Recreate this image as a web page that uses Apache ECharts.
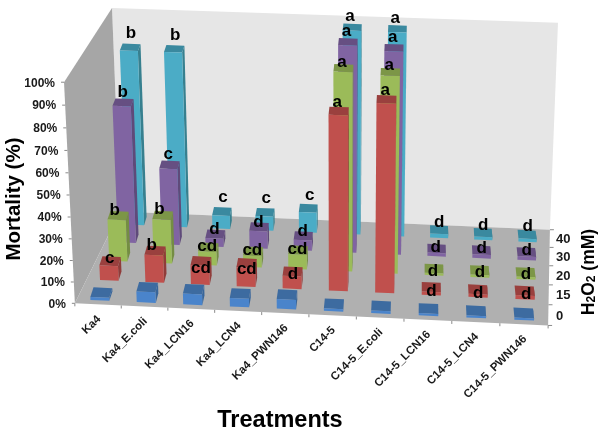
<!DOCTYPE html>
<html><head><meta charset="utf-8">
<style>html,body{margin:0;padding:0;background:#fff}#c{width:600px;height:434px}</style>
<script src="https://cdn.jsdelivr.net/npm/echarts@6/dist/echarts.min.js"></script>
</head><body><div id="c"></div>
<script>
// ---- data ----
const categories = ['Ka4','Ka4_E.coli','Ka4_LCN16','Ka4_LCN4','Ka4_PWN146','C14-5','C14-5_E.coli','C14-5_LCN16','C14-5_LCN4','C14-5_PWN146'];
const depthLabels = ['0','15','20','30','40'];
const mortalityTicks = [0,10,20,30,40,50,60,70,80,90,100];
const h2o2_0  = [1.4,5,5,4,4.5,1.2,1.2,1,1,1];
const h2o2_15 = [7,13,9,9,6,81,87,1.5,1.4,1.8];
const h2o2_20 = [20,21,6.5,5.5,7,93,92,1,1.2,1.2];
const h2o2_30 = [66,37,4,8.5,5,98,96,1.6,1.8,1.8];
const h2o2_40 = [85,85,6.5,7,10,98,98,2,1.5,1.5];
const letters_15 = ['c','b','cd','cd','d','a','a','d','d','d'];
const letters_20 = ['b','b','cd','cd','cd','a','a','d','d','d'];
const letters_30 = ['b','c','d','d','d','a','a','d','d','d'];
const letters_40 = ['b','b','c','c','c','a','a','d','d','d'];

// ---- projection: (u,v,w) in the unit box -> screen ----
const anchors = [
 [0,0,0,75,303],[1,0,0,548,326],[0,1,0,120,212],[1,1,0,550,229],
 [0,0,1,64,82],[0,1,1,112,8],[1,1,1,558,23]
];
function solveProjection(pts){
  const A=[],B=[];
  pts.forEach(([X,Y,Z,px,py])=>{
    const x=px/600,y=py/600;
    A.push([X,Y,Z,1,0,0,0,0,-x*X,-x*Y,-x*Z]);B.push(x);
    A.push([0,0,0,0,X,Y,Z,1,-y*X,-y*Y,-y*Z]);B.push(y);
  });
  const n=11,M=[];
  for(let i=0;i<n;i++){const r=[];for(let j=0;j<n;j++){let s=0;A.forEach(a=>s+=a[i]*a[j]);r.push(s);}
    let b=0;A.forEach((a,k)=>b+=a[i]*B[k]);r.push(b);M.push(r);}
  for(let c=0;c<n;c++){let p=c;for(let r=c+1;r<n;r++)if(Math.abs(M[r][c])>Math.abs(M[p][c]))p=r;
    [M[c],M[p]]=[M[p],M[c]];
    for(let r=0;r<n;r++){if(r===c)continue;const f=M[r][c]/M[c][c];for(let k=c;k<=n;k++)M[r][k]-=f*M[c][k];}}
  return M.map((r,i)=>r[n]/r[i]);
}
const H=solveProjection(anchors);
function project(u,v,w){
  const d=H[8]*u+H[9]*v+H[10]*w+1;
  return [600*(H[0]*u+H[1]*v+H[2]*w+H[3])/d,600*(H[4]*u+H[5]*v+H[6]*w+H[7])/d];
}

// ---- styles and label placement ----
const rows=[
 {name:'40',row:4,values:h2o2_40,letters:letters_40,front:'#4BACC6',top:'#3A899F',side:'#37808F',
  liftTall:[-17,-17,0,0,0,-14,-14],dxTall:[2,2,0,0,0,-2,-2],lift:[0,0,-18,-18,-17,0,0,-12,-12,-12],dx:[0,0,2,2,2,0,0,0,0,0]},
 {name:'30',row:3,values:h2o2_30,letters:letters_30,front:'#8064A2',top:'#664F82',side:'#5F4A7A',
  liftTall:[-14,-14,0,0,0,-14,-14],dxTall:[1,0,0,0,0,-1,-1],lift:[0,0,-9,-9,-9,0,0,-6,-6,-6],dx:[0,0,0,0,0,0,0,-1,0,0]},
 {name:'20',row:2,values:h2o2_20,letters:letters_20,front:'#9BBB59',top:'#7C9647',side:'#748D43',
  liftTall:[-10,-10,0,0,0,-10,-10],dxTall:[-2,-2,0,0,0,-1,-1],lift:[0,0,-5,-5,-5,0,0,-2,-3,-3],dx:[0,0,0,0,0,0,0,-1,0,0]},
 {name:'15',row:1,values:h2o2_15,letters:letters_15,front:'#C0504D',top:'#9A403E',side:'#903C3A',
  liftTall:[-13,-13,0,0,0,-13,-13],dxTall:[0,-2,0,0,0,-1,-1],lift:[-7,-10,3,2,-2,0,0,-1,-1,-1],dx:[1,-2,1,1,1,0,0,0,0,1]},
 {name:'0',row:0,values:h2o2_0,letters:null,front:'#4A84CB',top:'#3D6BA0',side:'#38659A'}
];
const G={left:100,top:100,width:100,height:100};
const font='"Liberation Sans",Arial,sans-serif';
const poly=(pts,fill,z2)=>({type:'polygon',z2:z2,shape:{points:pts},style:{fill:fill,stroke:null}});
const lineEl=(a,b,col)=>({type:'line',z2:1,shape:{x1:a[0],y1:a[1],x2:b[0],y2:b[1]},style:{stroke:col||'#8a8a8a',lineWidth:1}});
const textEl=(x,y,text,size,align,rot,extra)=>({type:'text',z2:60,x:x,y:y,rotation:rot||0,
  style:Object.assign({text:text,font:'bold '+size+'px '+font,fill:'#000',align:align,verticalAlign:'middle'},extra||{})});

function barSeries(cfg){
  return {type:'custom',name:cfg.name,coordinateSystem:'cartesian2d',silent:true,clip:false,
   data:cfg.values.map((v,i)=>[i,v]),
   encode:{x:0,y:1},
   renderItem(params,api){
     const i=api.value(0),val=api.value(1);
     const c=api.coord([i,val]);
     const u=(c[0]-G.left)/G.width,w=(G.top+G.height-c[1])/G.height;
     const hw=0.0205,hd=0.048,vc=(cfg.row+0.5)/5-0.012*(4-cfg.row)/4;
     const back=0.003;
     const u0=u-hw,u1=u+hw,v0=vc-hd,v1=vc+hd;
     const A=project(u0,v0,0),B=project(u1,v0,0),C=project(u1,v0,w),D=project(u0,v0,w);
     const E=project(u1-back,v1,0),F=project(u1-back,v1,w),K=project(u0-back,v1,w);
     const z=10+(4-cfg.row)*2;
     const ch=[poly([B,E,F,C],cfg.side,z),poly([D,C,F,K],cfg.top,z),poly([A,B,C,D],cfg.front,z+1)];
     if(cfg.letters){
       const tall=(i<2&&cfg.lift[i]===0)||(i===5||i===6);
       const lift=tall?cfg.liftTall[i]:cfg.lift[i];
       const dx=tall?cfg.dxTall[i]:cfg.dx[i];
       const mx=(C[0]+D[0])/2+dx,my=(C[1]+D[1])/2+lift;
       ch.push(Object.assign(textEl(mx,my,cfg.letters[i],17,'center'),{z2:70}));
     }
     return {type:'group',children:ch};
   }};
}

const frameSeries={type:'custom',name:'frame',coordinateSystem:'cartesian2d',silent:true,clip:false,
 data:[[0,0]],encode:{x:0,y:1},
 renderItem(){
   const ch=[];
   const FL=project(0,0,0),FR=project(1,0,0),BL=project(0,1,0),BR=project(1,1,0),
         TL=project(0,0,1),TB=project(0,1,1),TR=project(1,1,1);
   ch.push(poly([BL,BR,TR,TB],'#E6E6E6',0));
   ch.push(poly([FL,BL,TB,TL],'#A6A6A6',0));
   ch.push(poly([FL,FR,BR,BL],'#B0B0B0',0));
   mortalityTicks.forEach(t=>{
     const p=project(0,0,t/100);
     ch.push(lineEl([p[0]-3,p[1]],[p[0],p[1]]));
     ch.push(textEl(p[0]-9,p[1]+1,t+'%',12,'right',0,{fill:'#1a1a1a'}));
   });
   categories.forEach((c,i)=>{
     const a=project(i/10,0,0);
     ch.push(lineEl(a,[a[0],a[1]+3]));
     const q=project((i+0.5)/10,0,0);
     ch.push(textEl(q[0]+1,q[1]+13,c,11.5,'right',Math.PI/4,{fill:'#1a1a1a'}));
   });
   const e=project(1,0,0);ch.push(lineEl(e,[e[0],e[1]+3]));
   for(let k=0;k<=5;k++){const p=project(1,k/5,0);ch.push(lineEl(p,[p[0]+4,p[1]]));}
   depthLabels.forEach((t,k)=>{
     const p=project(1,(k+0.5)/5,0);
     ch.push(textEl(556,p[1]+1,t,13,'left',0,{fill:'#1a1a1a'}));
   });
   ch.push(textEl(14,199,'Mortality (%)',20.5,'center',Math.PI/2));
   ch.push(textEl(280,421,'Treatments',23.5,'center',0));
   ch.push(textEl(589,272,'{b|H}{s|2}{b|O}{s|2}{b| (mM)}',17.5,'center',Math.PI/2,
     {rich:{
       b:{font:'bold 17.5px '+font,fill:'#000',lineHeight:18,verticalAlign:'top'},
       s:{font:'bold 12px '+font,fill:'#000',lineHeight:12,padding:[12,0,0,0],verticalAlign:'bottom'}
     }}));
   return {type:'group',children:ch};
 }};

const chart=echarts.init(document.getElementById('c'),null,{renderer:'canvas'});
chart.setOption({
 animation:false,backgroundColor:'#fff',
 grid:G,
 xAxis:{type:'value',min:-0.5,max:9.5,show:false,splitLine:{show:false}},
 yAxis:{type:'value',min:0,max:100,show:false,splitLine:{show:false}},
 series:[frameSeries].concat(rows.map(barSeries))
});
</script></body></html>
